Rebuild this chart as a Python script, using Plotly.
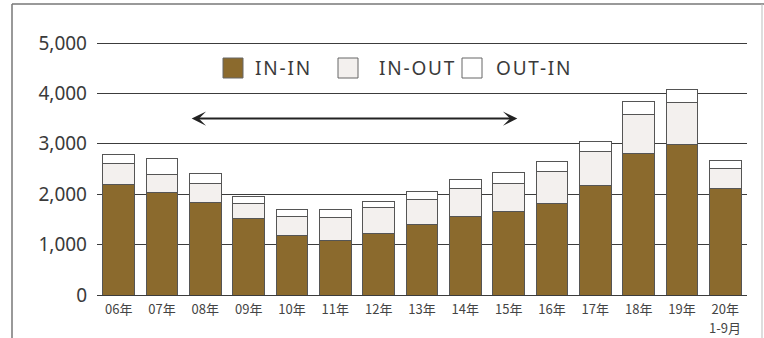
import plotly.graph_objects as go

# Annual counts by flow type (2020 covers January-September only)
years = ["06年", "07年", "08年", "09年", "10年", "11年", "12年", "13年",
         "14年", "15年", "16年", "17年", "18年", "19年", "20年"]
partial_year_note = "1-9月"
in_in = [2190, 2030, 1830, 1520, 1190, 1090, 1230, 1400,
         1560, 1660, 1820, 2180, 2810, 2990, 2110]
in_out = [410, 360, 380, 300, 370, 450, 510, 500,
          550, 560, 630, 660, 780, 820, 410]
out_in = [180, 310, 200, 130, 140, 150, 110, 150,
          180, 210, 190, 200, 250, 270, 150]
y_ticks = [0, 1000, 2000, 3000, 4000, 5000]
series_names = ["IN-IN", "IN-OUT", "OUT-IN"]

W, H = 764, 338
ML, MR, MT, MB = 97, 17, 41, 43
Y_TOP = 5040
BROWN = "#8b6a2d"
LIGHT = "#f3f0ee"
EDGE = "#555555"
TXT = "#3a3a3a"


def px_x(px):
    return (px - ML) / (W - ML - MR)


def px_y(py):
    return (H - MB - py) / (H - MT - MB)


fig = go.Figure()
for name, vals, color in zip(series_names, [in_in, in_out, out_in],
                             [BROWN, LIGHT, "#ffffff"]):
    fig.add_trace(go.Bar(
        x=years, y=vals, name=name,
        marker=dict(color=color, line=dict(color=EDGE, width=1)),
        hoverinfo="skip",
    ))

shapes = []
annotations = []

# Hand-placed legend: swatches followed by labels
legend_items = [(223, BROWN, 253), (338, LIGHT, 377), (462, "#ffffff", 494)]
for (sx, col, tx), name in zip(legend_items, series_names):
    shapes.append(dict(type="rect", xref="paper", yref="paper",
                       x0=px_x(sx), x1=px_x(sx + 20), y0=px_y(78), y1=px_y(58),
                       fillcolor=col, line=dict(color="#666666", width=1)))
    annotations.append(dict(
        xref="paper", yref="paper", x=px_x(tx), y=px_y(68),
        xanchor="left", yanchor="middle", showarrow=False,
        text='<span style="letter-spacing:1.8px">%s</span>' % name,
        font=dict(family="Noto Sans", size=19, color=TXT)))

# Second line under the last category label
annotations.append(dict(
    x=years[-1], xref="x", y=px_y(327), yref="paper",
    xanchor="center", yanchor="middle", showarrow=False,
    text=partial_year_note,
    font=dict(family="Noto Sans CJK JP", size=13, color="#444444")))

# Double-headed arrow spanning the 08-15 period
annotations.append(dict(
    x=9.2, y=3500, ax=1.65, ay=3500, xref="x", yref="y", axref="x", ayref="y",
    text="", showarrow=True, arrowhead=3, startarrowhead=3,
    arrowside="end+start", arrowsize=1.2, startarrowsize=1.2,
    arrowwidth=2, arrowcolor="#222222"))

# Outer frame lines
shapes.append(dict(type="line", xref="paper", yref="paper",
                   x0=px_x(12), x1=px_x(12), y0=px_y(4), y1=px_y(338),
                   line=dict(color="#777777", width=1.5)))
shapes.append(dict(type="line", xref="paper", yref="paper",
                   x0=px_x(12), x1=px_x(764), y0=px_y(4), y1=px_y(4),
                   line=dict(color="#777777", width=1.5)))
shapes.append(dict(type="line", xref="paper", yref="paper",
                   x0=px_x(762), x1=px_x(762), y0=px_y(4), y1=px_y(338),
                   line=dict(color="#bbbbbb", width=1)))

fig.update_layout(
    width=W, height=H,
    margin=dict(l=ML, r=MR, t=MT, b=MB, pad=0, autoexpand=False),
    barmode="stack", bargap=0.27,
    paper_bgcolor="white", plot_bgcolor="white",
    showlegend=False,
    shapes=shapes, annotations=annotations,
    font=dict(family="Noto Sans, Noto Sans CJK JP", color=TXT),
)
fig.update_xaxes(
    type="category", range=[-0.5, len(years) - 0.5], automargin=False,
    showgrid=False, showline=False, zeroline=False, ticks="",
    ticklabelstandoff=5,
    tickfont=dict(family="Noto Sans CJK JP", size=13, color="#444444"),
)
fig.update_yaxes(
    range=[0, Y_TOP], tickvals=y_ticks, automargin=False,
    ticktext=[f"{v:,}" for v in y_ticks],
    showgrid=True, gridcolor="#3c3c3c", gridwidth=1,
    zeroline=True, zerolinecolor="#3c3c3c", zerolinewidth=1,
    showline=False, ticks="", ticklabelstandoff=9,
    tickfont=dict(family="Noto Sans", size=19, color=TXT),
)

fig.write_html("out.html")
